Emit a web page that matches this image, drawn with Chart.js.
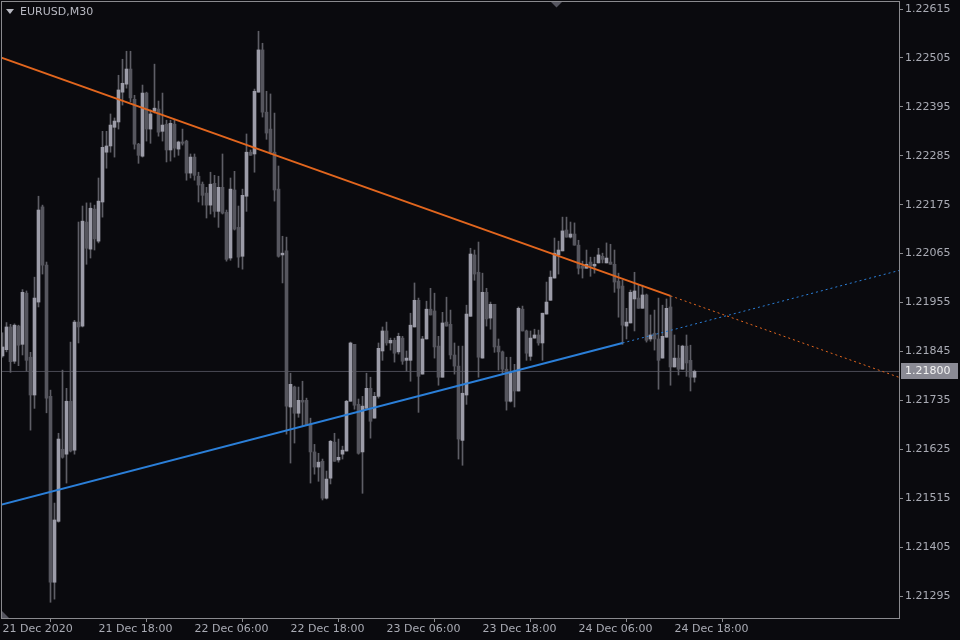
<!DOCTYPE html>
<html><head><meta charset="utf-8">
<script src="https://cdn.jsdelivr.net/npm/chart.js@4.4.1/dist/chart.umd.min.js"></script>
<style>html,body{margin:0;padding:0;background:#0a0a0e;overflow:hidden}#wrap{position:relative;width:960px;height:640px}</style>
</head><body><div id="wrap"><canvas id="c"></canvas></div>
<script>
const symbolTitle = 'EURUSD,M30';
const open = [1.21835,1.21849,1.21900,1.21823,1.21902,1.21861,1.21976,1.21832,1.21747,1.21956,1.22170,1.22039,1.21744,1.21326,1.21463,1.21625,1.21614,1.21733,1.21623,1.21911,1.21902,1.22136,1.22075,1.22165,1.22093,1.22181,1.22293,1.22307,1.22349,1.22361,1.22428,1.22446,1.22480,1.22412,1.22311,1.22284,1.22426,1.22345,1.22385,1.22390,1.22340,1.22356,1.22298,1.22356,1.22300,1.22316,1.22318,1.22246,1.22282,1.22239,1.22221,1.22201,1.22174,1.22223,1.22160,1.22214,1.22158,1.22055,1.22208,1.22124,1.22059,1.22194,1.22293,1.22289,1.22428,1.22523,1.22383,1.22345,1.22293,1.22210,1.22062,1.22071,1.21720,1.21765,1.21706,1.21735,1.21735,1.21682,1.21619,1.21585,1.21598,1.21515,1.21560,1.21641,1.21601,1.21614,1.21621,1.21733,1.21861,1.21726,1.21619,1.21717,1.21762,1.21695,1.21744,1.21846,1.21891,1.21864,1.21870,1.21844,1.21875,1.21825,1.21825,1.21900,1.21960,1.21794,1.21873,1.21940,1.21936,1.21857,1.21787,1.21911,1.21906,1.21837,1.21812,1.21645,1.21747,1.21924,1.22062,1.22023,1.21830,1.21978,1.21920,1.21951,1.21857,1.21844,1.21805,1.21733,1.21798,1.21756,1.21940,1.21891,1.21834,1.21875,1.21882,1.21864,1.21929,1.21960,1.22010,1.22062,1.22071,1.22118,1.22102,1.22109,1.22084,1.22037,1.22032,1.22046,1.22037,1.22044,1.22059,1.22044,1.22046,1.22041,1.22003,1.21992,1.21902,1.21909,1.21963,1.21965,1.21942,1.21972,1.21873,1.21886,1.21873,1.21830,1.21877,1.21945,1.21810,1.21830,1.21805,1.21857,1.21825,1.21787];
const high = [1.21887,1.21910,1.21906,1.21907,1.21904,1.21984,1.21981,1.21843,1.22012,1.22194,1.22174,1.22046,1.21758,1.21504,1.21661,1.21803,1.21762,1.21866,1.21915,1.22136,1.22172,1.22179,1.22179,1.22174,1.22235,1.22340,1.22340,1.22379,1.22370,1.22466,1.22502,1.22520,1.22520,1.22421,1.22313,1.22444,1.22428,1.22388,1.22491,1.22408,1.22426,1.22365,1.22365,1.22365,1.22318,1.22345,1.22320,1.22289,1.22289,1.22248,1.22226,1.22214,1.22248,1.22241,1.22239,1.22289,1.22163,1.22235,1.22250,1.22172,1.22210,1.22334,1.22298,1.22435,1.22565,1.22538,1.22430,1.22424,1.22381,1.22262,1.22104,1.22102,1.21796,1.21767,1.21765,1.21778,1.21740,1.21695,1.21636,1.21616,1.21603,1.21576,1.21645,1.21661,1.21648,1.21632,1.21735,1.21866,1.21861,1.21738,1.21744,1.21796,1.21787,1.21753,1.21864,1.21900,1.21911,1.21875,1.21875,1.21886,1.21879,1.21846,1.21931,1.21999,1.21965,1.21879,1.21958,1.21987,1.21976,1.21879,1.21933,1.21967,1.21938,1.21864,1.21857,1.21857,1.21949,1.22077,1.22073,1.22091,1.22021,1.21987,1.21956,1.21951,1.21873,1.21846,1.21832,1.21832,1.21816,1.21945,1.21947,1.21893,1.21891,1.21895,1.21893,1.21931,1.22001,1.22026,1.22100,1.22093,1.22147,1.22147,1.22136,1.22134,1.22095,1.22048,1.22073,1.22057,1.22057,1.22077,1.22066,1.22089,1.22086,1.22073,1.22021,1.22005,1.21942,1.21983,1.22023,1.21996,1.21994,1.21974,1.21927,1.21938,1.21965,1.21949,1.21963,1.21969,1.21882,1.21859,1.21859,1.21882,1.21859,1.21803];
const low = [1.21832,1.21844,1.21798,1.21818,1.21813,1.21837,1.21801,1.21668,1.21717,1.21945,1.22019,1.21707,1.21281,1.21288,1.21461,1.21605,1.21549,1.21619,1.21614,1.21864,1.21900,1.22041,1.22055,1.22073,1.22089,1.22147,1.22257,1.22293,1.22282,1.22345,1.22399,1.22437,1.22406,1.22300,1.22268,1.22282,1.22318,1.22313,1.22381,1.22329,1.22318,1.22271,1.22273,1.22282,1.22286,1.22309,1.22230,1.22235,1.22230,1.22181,1.22174,1.22145,1.22154,1.22147,1.22124,1.22154,1.22048,1.22050,1.22118,1.22034,1.22030,1.22160,1.22286,1.22248,1.22428,1.22372,1.22322,1.22289,1.22183,1.22057,1.21999,1.21659,1.21594,1.21639,1.21697,1.21677,1.21679,1.21549,1.21569,1.21553,1.21511,1.21513,1.21547,1.21598,1.21596,1.21603,1.21621,1.21733,1.21715,1.21614,1.21526,1.21717,1.21650,1.21695,1.21740,1.21825,1.21859,1.21848,1.21821,1.21839,1.21816,1.21801,1.21778,1.21900,1.21708,1.21794,1.21873,1.21927,1.21830,1.21769,1.21787,1.21902,1.21828,1.21794,1.21603,1.21589,1.21726,1.21924,1.22005,1.21787,1.21830,1.21902,1.21895,1.21843,1.21803,1.21794,1.21713,1.21731,1.21720,1.21756,1.21891,1.21825,1.21825,1.21875,1.21859,1.21825,1.21929,1.21960,1.22010,1.22019,1.22071,1.22102,1.22100,1.22084,1.22019,1.22010,1.22032,1.22014,1.22021,1.22044,1.22044,1.22044,1.22041,1.21978,1.21922,1.21861,1.21873,1.21909,1.21891,1.21942,1.21942,1.21866,1.21868,1.21848,1.21760,1.21830,1.21877,1.21769,1.21810,1.21792,1.21805,1.21789,1.21756,1.21776];
const close = [1.21855,1.21900,1.21822,1.21904,1.21859,1.21978,1.21825,1.21747,1.21965,1.22163,1.22039,1.21740,1.21326,1.21466,1.21648,1.21607,1.21733,1.21621,1.21911,1.21900,1.22138,1.22077,1.22167,1.22098,1.22183,1.22304,1.22307,1.22354,1.22363,1.22433,1.22448,1.22480,1.22415,1.22311,1.22286,1.22426,1.22345,1.22379,1.22392,1.22338,1.22354,1.22298,1.22358,1.22302,1.22316,1.22313,1.22246,1.22282,1.22241,1.22219,1.22196,1.22174,1.22221,1.22160,1.22214,1.22156,1.22052,1.22210,1.22120,1.22057,1.22196,1.22293,1.22286,1.22430,1.22523,1.22383,1.22336,1.22293,1.22208,1.22059,1.22066,1.21722,1.21771,1.21706,1.21735,1.21731,1.21679,1.21619,1.21585,1.21596,1.21515,1.21558,1.21643,1.21598,1.21607,1.21623,1.21733,1.21864,1.21724,1.21616,1.21722,1.21762,1.21688,1.21744,1.21852,1.21891,1.21864,1.21870,1.21841,1.21879,1.21823,1.21830,1.21904,1.21960,1.21789,1.21873,1.21940,1.21927,1.21855,1.21787,1.21909,1.21902,1.21837,1.21812,1.21648,1.21751,1.21929,1.22064,1.22019,1.21832,1.21978,1.21918,1.21951,1.21855,1.21844,1.21805,1.21733,1.21796,1.21756,1.21942,1.21891,1.21841,1.21875,1.21882,1.21864,1.21931,1.21956,1.22012,1.22066,1.22073,1.22116,1.22102,1.22109,1.22084,1.22032,1.22032,1.22041,1.22037,1.22041,1.22062,1.22052,1.22055,1.22041,1.22001,1.21987,1.21904,1.21911,1.21978,1.21981,1.21942,1.21972,1.21870,1.21882,1.21873,1.21825,1.21879,1.21942,1.21810,1.21830,1.21805,1.21857,1.21819,1.21787,1.21800];
const timeTickIndex = [0,24,48,72,96,120,144,168];
const timeTickLabels = ['21 Dec 2020','21 Dec 18:00','22 Dec 06:00','22 Dec 18:00','23 Dec 06:00','23 Dec 18:00','24 Dec 06:00','24 Dec 18:00'];
const priceTicks = [1.21295,1.21405,1.21515,1.21625,1.21735,1.21845,1.21955,1.22065,1.22175,1.22285,1.22395,1.22505,1.22615];
const orangeIdx = [-1,167,225];
const orangePrice = [1.22508,1.21970,1.21784];
const blueIdx = [-1,155,225];
const bluePrice = [1.21499,1.21864,1.22029];
const bidPrice = 1.21800;

const BG = '#0a0a0e', TXT = '#a9abb4', FRAME = '#8a8a8e';
const BULL = '#9c9ca8', BEAR = '#56565e', WICK = '#5e5e66';
const ORANGE = '#e2661e', BLUE = '#2b7fd8';
const FONT = {family:'DejaVu Sans', size:11};
const X_MIN = -0.375, X_MAX = 224.125;

const isBull = close.map((c,i)=>c>=open[i]);
const seg = (idx, pr, a, b) => [{x:idx[a], y:pr[a]}, {x:idx[b], y:pr[b]}];
const noPad = s => { s.paddingTop = 0; s.paddingBottom = 0; s.paddingLeft = 0; s.paddingRight = 0; };

const decor = {
  id:'decor',
  beforeDraw(chart){
    const {ctx} = chart;
    ctx.save(); ctx.fillStyle = BG; ctx.fillRect(0,0,chart.width,chart.height); ctx.restore();
  },
  afterDraw(chart){
    const {ctx, chartArea:ca, scales} = chart;
    ctx.save();
    ctx.strokeStyle = FRAME; ctx.lineWidth = 1;
    ctx.strokeRect(ca.left+0.5, ca.top+0.5, ca.right-ca.left, ca.bottom-ca.top);
    ctx.fillStyle = '#55555f';
    ctx.beginPath(); ctx.moveTo(551,2); ctx.lineTo(562,2); ctx.lineTo(556.5,7.5); ctx.closePath(); ctx.fill();
    ctx.beginPath(); ctx.moveTo(2,611); ctx.lineTo(2,618); ctx.lineTo(9,618); ctx.closePath(); ctx.fill();
    ctx.fillStyle = '#b8b9c2';
    ctx.beginPath(); ctx.moveTo(6,9); ctx.lineTo(14,9); ctx.lineTo(10,14); ctx.closePath(); ctx.fill();
    ctx.font = '11px "DejaVu Sans"'; ctx.textBaseline = 'middle'; ctx.textAlign = 'left';
    ctx.fillText(symbolTitle, 20, 12);
    const y = Math.round(scales.y.getPixelForValue(bidPrice));
    ctx.fillStyle = '#8a8a94';
    ctx.fillRect(ca.right+2, y-8, 958-(ca.right+2), 16);
    ctx.fillStyle = '#f2f2f2';
    ctx.fillText(bidPrice.toFixed(5), ca.right+6, y+0.5);
    ctx.restore();
  }
};

new Chart(document.getElementById('c'), {
  type:'bar',
  data:{datasets:[
    {type:'line', data:seg(orangeIdx,orangePrice,0,1), borderColor:ORANGE, borderWidth:2, pointRadius:0, order:0},
    {type:'line', data:seg(orangeIdx,orangePrice,1,2), borderColor:ORANGE, borderWidth:1, borderDash:[2,3], pointRadius:0, order:0},
    {type:'line', data:seg(blueIdx,bluePrice,0,1), borderColor:BLUE, borderWidth:2, pointRadius:0, order:0},
    {type:'line', data:seg(blueIdx,bluePrice,1,2), borderColor:BLUE, borderWidth:1, borderDash:[2,3], pointRadius:0, order:0},
    {type:'bar', data:close.map((c,i)=>({x:i, y:[open[i], c]})), backgroundColor:isBull.map(b=>b?BULL:BEAR), barThickness:3, minBarLength:1, grouped:false, order:1},
    {type:'bar', data:high.map((h,i)=>({x:i, y:[low[i], h]})), backgroundColor:WICK, barThickness:1, minBarLength:1, grouped:false, order:2},
    {type:'line', data:[{x:X_MIN, y:bidPrice},{x:X_MAX, y:bidPrice}], borderColor:'#4a4a54', borderWidth:1, pointRadius:0, order:3}
  ]},
  options:{
    responsive:true, maintainAspectRatio:false, animation:false, devicePixelRatio:1,
    layout:{padding:{left:1, top:1, right:0, bottom:0}},
    plugins:{legend:{display:false}, tooltip:{enabled:false}},
    scales:{
      x:{type:'linear', min:X_MIN, max:X_MAX, offset:false,
        grid:{display:true, drawOnChartArea:false, drawTicks:true, tickLength:4, color:FRAME},
        border:{display:false},
        ticks:{autoSkip:false, maxRotation:0, minRotation:0, align:'start', color:TXT, font:FONT, padding:1,
          callback:(v,i)=>timeTickLabels[i]},
        afterBuildTicks:s=>{s.ticks = timeTickIndex.map(v=>({value:v}));},
        afterFit:s=>{s.height = 22; noPad(s);}
      },
      y:{type:'linear', position:'right', min:1.212456, max:1.22633,
        grid:{display:true, drawOnChartArea:false, drawTicks:true, tickLength:4, color:FRAME},
        border:{display:false},
        ticks:{color:TXT, font:FONT, padding:2, callback:v=>Number(v).toFixed(5)},
        afterBuildTicks:s=>{s.ticks = priceTicks.map(v=>({value:v}));},
        afterFit:s=>{s.width = 61; noPad(s);}
      }
    }
  },
  plugins:[decor]
});
</script></body></html>
